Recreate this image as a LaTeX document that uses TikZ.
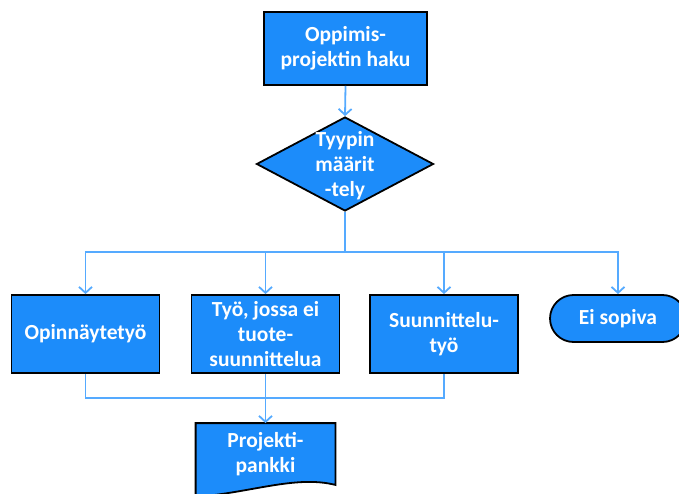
\documentclass[tikz,border=0pt]{standalone}
\usepackage{fontspec}
\setmainfont{Carlito}
\usepackage{tikz}
\usetikzlibrary{calc}
\usetikzlibrary{arrows.meta}
\usetikzlibrary{positioning,shapes.geometric,shapes.misc,backgrounds}
\definecolor{boxblue}{RGB}{28,140,250}
\definecolor{lineblue}{RGB}{85,170,255}

\begin{document}
\begin{tikzpicture}[
x=1pt,y=-1pt,
MyBoxes/.style={draw=black,fill=boxblue,line width=1.8pt,text=white,
  font=\fontsize{21.5}{25}\selectfont\bfseries,align=center,inner sep=0pt},
Process/.style={MyBoxes,rectangle,minimum width=148pt,minimum height=78pt},
Decision/.style={MyBoxes,diamond,minimum width=177pt,minimum height=94pt},
Terminal/.style={MyBoxes,rounded rectangle,minimum width=136pt,minimum height=47pt},
DocText/.style={MyBoxes,draw=none,fill=none,minimum width=138pt,minimum height=60pt},
Flow/.style={draw=lineblue,line width=1.8pt,-{Straight Barb[length=6pt,width=13pt]}},
Line/.style={draw=lineblue,line width=1.8pt}
]
\useasboundingbox (0,0) rectangle (679,494);

% top of the chart
\node[Process,minimum width=163pt,minimum height=73pt] (haku) at (345.5,48.5) {Oppimis-\\projektin haku};
\node[Decision] (tyyppi) at (345,164) {};
\node[MyBoxes,draw=none,fill=none] (tyyppitxt) at (345,166) {Tyypin\\määrit\\-tely};

% the four branches
\node[Process] (opinn) at (85.5,334) {Opinnäytetyö};
\node[Process] (tyo) at (265.5,334) {Työ, jossa ei\\tuote-\\suunnittelua};
\node[Process] (suunn) at (444,334) {Suunnittelu-\\työ};
\node[Terminal] (eisop) at (618,318.5) {Ei sopiva};

% document shape
\node[DocText] (pankki) at (265.5,454) {Projekti-\\pankki};
\begin{scope}[on background layer]
\draw[MyBoxes] (pankki.north west) -- (pankki.north east) -- (pankki.south east)
  .. controls +(-40,-10) and +(55,-4) .. ($(pankki.south west)+(0,12)$) -- cycle;
\end{scope}

\coordinate (hub) at (345,252);
\coordinate (merge) at (265.5,398);

\draw[Flow] (haku.south) -- (tyyppi.north);
\draw[Line] (tyyppi.south) -- (hub);
\foreach \n in {opinn,tyo,suunn,eisop}
  \draw[Flow] (hub) -| (\n.north);

\draw[Line] (opinn.south) |- (merge) -| (suunn.south);
\draw[Flow] (tyo.south) -- (pankki.north);

\end{tikzpicture}
\end{document}
